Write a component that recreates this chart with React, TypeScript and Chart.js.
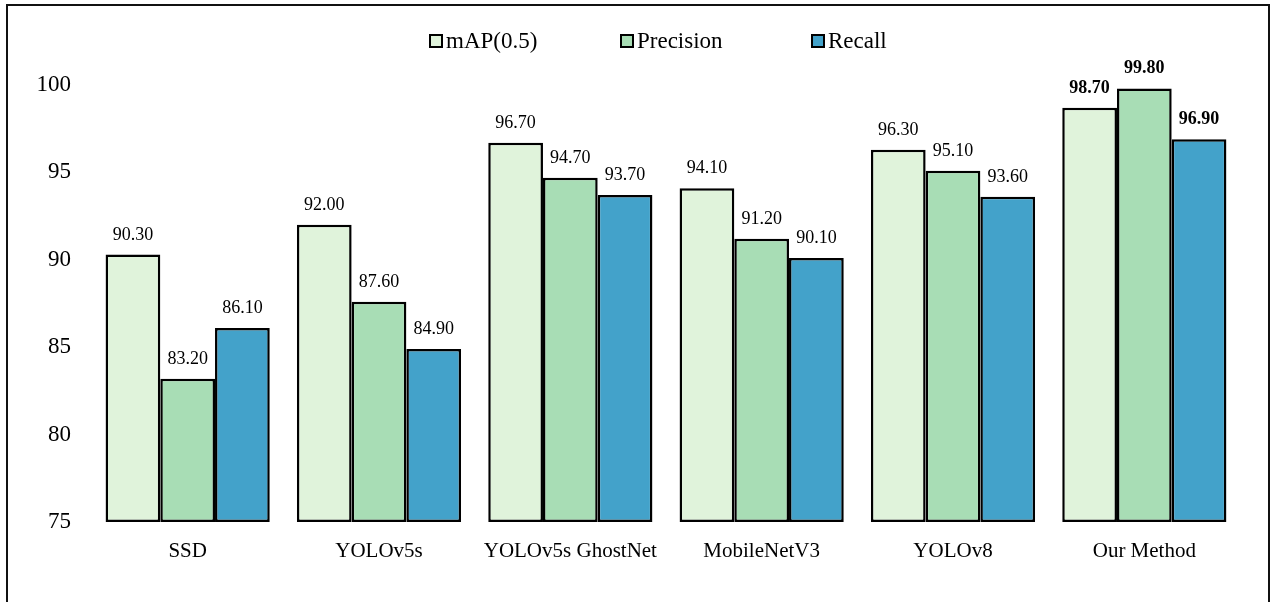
import React, { useEffect, useRef } from 'react';
import { Chart, registerables } from 'chart.js';

Chart.register(...registerables);

// Models compared and their detection metrics (%)
const categories = ['SSD', 'YOLOv5s', 'YOLOv5s GhostNet', 'MobileNetV3', 'YOLOv8', 'Our Method'];
const seriesNames = ['mAP(0.5)', 'Precision', 'Recall'];
const mapValues = [90.3, 92.0, 96.7, 94.1, 96.3, 98.7];
const precisionValues = [83.2, 87.6, 94.7, 91.2, 95.1, 99.8];
const recallValues = [86.1, 84.9, 93.7, 90.1, 93.6, 96.9];
const yTicks = [75, 80, 85, 90, 95, 100];

const seriesColors = ['#E0F3DB', '#A8DDB5', '#43A2CA'];
const FONT = "'Liberation Serif', 'Times New Roman', serif";

// Numeric labels above each bar; the last group is set in bold
const valueLabels = {
  id: 'valueLabels',
  afterDatasetsDraw(chart: any) {
    const ctx = chart.ctx;
    ctx.save();
    ctx.fillStyle = '#000';
    ctx.textAlign = 'center';
    ctx.textBaseline = 'alphabetic';
    chart.data.datasets.forEach((ds: any, di: number) => {
      const meta = chart.getDatasetMeta(di);
      meta.data.forEach((bar: any, i: number) => {
        const bold = i === categories.length - 1;
        ctx.font = `${bold ? 'bold ' : ''}18px ${FONT}`;
        ctx.fillText(Number(ds.data[i]).toFixed(2), bar.x, bar.y - 15);
      });
    });
    ctx.restore();
  },
};

// Legend row above the plot: small outlined swatches with series names
const seriesLegend = {
  id: 'seriesLegend',
  afterDraw(chart: any) {
    const ctx = chart.ctx;
    const area = chart.chartArea;
    const centerX = (area.left + area.right) / 2;
    const startX = centerX - 236;
    const step = 191;
    const y = 41;
    ctx.save();
    ctx.font = `23px ${FONT}`;
    ctx.textAlign = 'left';
    ctx.textBaseline = 'middle';
    chart.data.datasets.forEach((ds: any, i: number) => {
      const x = startX + i * step;
      ctx.fillStyle = ds.backgroundColor;
      ctx.fillRect(x, y - 6, 12, 12);
      ctx.lineWidth = 2;
      ctx.strokeStyle = '#000';
      ctx.strokeRect(x, y - 6, 12, 12);
      ctx.fillStyle = '#000';
      ctx.fillText(ds.label, x + 16, y + 1);
    });
    ctx.restore();
  },
};

export default function App() {
  const canvasRef = useRef<HTMLCanvasElement | null>(null);

  useEffect(() => {
    const canvas = canvasRef.current;
    if (!canvas) return;
    const seriesValues = [mapValues, precisionValues, recallValues];
    const chart = new Chart(canvas, {
      type: 'bar',
      data: {
        labels: categories,
        datasets: seriesNames.map((name, i) => ({
          label: name,
          data: seriesValues[i],
          base: yTicks[0],
          backgroundColor: seriesColors[i],
          borderColor: '#000',
          borderWidth: 2.5,
          borderSkipped: false,
          barPercentage: 1,
          categoryPercentage: 0.858,
        })),
      },
      options: {
        animation: false,
        responsive: false,
        maintainAspectRatio: false,
        devicePixelRatio: 1,
        layout: { padding: { top: 85, left: 0, right: 33, bottom: 0 } },
        elements: { bar: { borderSkipped: false, borderWidth: 2.5, borderColor: '#000' } },
        plugins: {
          legend: { display: false },
          tooltip: { enabled: false },
        },
        scales: {
          x: {
            grid: { display: false },
            border: { display: false },
            ticks: {
              color: '#000',
              padding: 9,
              maxRotation: 0,
              autoSkip: false,
              font: { family: FONT, size: 21 },
            },
            afterFit(scale: any) {
              scale.height = 80;
            },
          },
          y: {
            min: yTicks[0],
            max: yTicks[yTicks.length - 1],
            grid: { display: false },
            border: { display: false },
            ticks: {
              stepSize: 5,
              color: '#000',
              padding: 13,
              autoSkip: false,
              font: { family: FONT, size: 23 },
            },
            afterFit(scale: any) {
              scale.width = 92;
            },
          },
        },
      },
      plugins: [valueLabels, seriesLegend],
    });
    return () => chart.destroy();
  }, []);

  return (
    <div
      style={{
        position: 'absolute',
        left: 0,
        top: 0,
        width: 1273,
        height: 602,
        overflow: 'hidden',
        background: '#fff',
      }}
    >
      <div
        style={{
          position: 'absolute',
          left: 6,
          top: 4,
          width: 1260,
          height: 700,
          border: '2px solid #111',
        }}
      />
      <canvas
        ref={canvasRef}
        width={1273}
        height={602}
        style={{ position: 'absolute', left: 0, top: 0, width: 1273, height: 602 }}
      />
    </div>
  );
}
